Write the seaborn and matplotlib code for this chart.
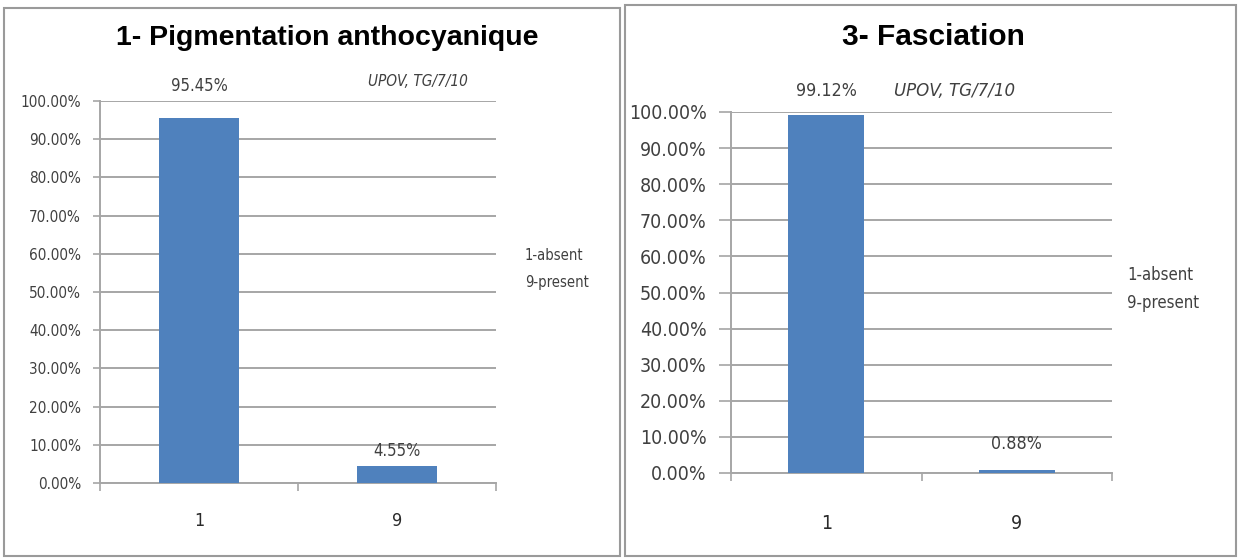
import matplotlib
matplotlib.use("Agg")
import matplotlib.pyplot as plt
import matplotlib.patches as mpatches
from matplotlib.ticker import FuncFormatter, FixedLocator
import seaborn as sns
import pandas as pd

# ---- data ----
categories = ["1", "9"]
pigmentation_values = [95.45, 4.55]
fasciation_values = [99.12, 0.88]
pigmentation_title = "1- Pigmentation anthocyanique"
fasciation_title = "3- Fasciation"
source_note = "UPOV, TG/7/10"
legend_lines = ["1-absent", "9-present"]

sns.set_theme(style="white")
plt.rcParams["font.family"] = ["DejaVu Sans"]

W, H = 1238, 558
fig = plt.figure(figsize=(W / 100, H / 100), dpi=100)
fig.patch.set_facecolor("white")

BAR = "#4F81BD"
GRID = "#a6a6a6"
TXT = "#404040"


def px_axes(x0, x1, y_top, y_bot):
    return fig.add_axes([x0 / W, (H - y_bot) / H, (x1 - x0) / W, (y_bot - y_top) / H])


def frame(x0, y0, x1, y1):
    r = mpatches.Rectangle((x0 / W, (H - y1) / H), (x1 - x0) / W, (y1 - y0) / H,
                           transform=fig.transFigure, fill=False,
                           edgecolor="#9a9a9a", linewidth=1.5)
    fig.add_artist(r)


def draw_panel(ax, values, fs_tick, fs_lab, fs_x, xpad, ytick_len, lab_offsets):
    df = pd.DataFrame({"cat": categories, "val": values})
    sns.barplot(data=df, x="cat", y="val", order=categories, color=BAR,
                saturation=1, width=0.4, ax=ax, zorder=3, linewidth=0)
    ax.set_xlim(-0.5, 1.5)
    ax.set_ylim(0, 100)
    ax.set_yticks(range(0, 101, 10))
    ax.yaxis.set_major_formatter(FuncFormatter(lambda v, p: f"{v:.2f}%"))
    ax.set_xlabel("")
    ax.set_ylabel("")
    ax.grid(axis="y", color=GRID, linewidth=1.4, zorder=0)
    ax.set_axisbelow(True)
    for s in ["top", "right"]:
        ax.spines[s].set_visible(False)
    for s in ["left", "bottom"]:
        ax.spines[s].set_color(GRID)
        ax.spines[s].set_linewidth(1.4)
    ax.tick_params(axis="y", which="major", left=True, length=ytick_len, width=1.2,
                   color=GRID, labelsize=fs_tick, labelcolor=TXT, pad=8.6)
    ax.tick_params(axis="x", which="major", bottom=False, labelsize=fs_x,
                   labelcolor="#2a2a2a", pad=xpad)
    ax.xaxis.set_minor_locator(FixedLocator([-0.5, 0.5, 1.5]))
    ax.tick_params(axis="x", which="minor", bottom=True, length=6, width=1.2,
                   color=GRID)
    for lab in ax.get_yticklabels() + ax.get_xticklabels():
        lab.set_fontstretch("condensed")
    for i, v in enumerate(values):
        ax.annotate(f"{v:.2f}%", (i, v), xytext=(0, lab_offsets[i] * 0.72),
                    textcoords="offset points", ha="center", va="center",
                    fontsize=fs_lab, color=TXT, fontstretch="condensed",
                    annotation_clip=False)


# ---- left panel ----
frame(4, 8, 620, 556)
axL = px_axes(100, 496, 101, 483)
draw_panel(axL, pigmentation_values, 11, 12, 13, 15, 5, [32, 15])
fig.text(327 / W, 1 - 38 / H, pigmentation_title, ha="center", va="center",
         fontsize=20.5, fontweight="bold", family="Liberation Sans", color="black")
fig.text(418 / W, 1 - 82 / H, source_note, ha="center", va="center",
         fontsize=11, style="italic", color=TXT, fontstretch="condensed")
fig.text(525 / W, 1 - 256 / H, legend_lines[0], ha="left", va="center",
         fontsize=10.5, color=TXT, fontstretch="condensed")
fig.text(525 / W, 1 - 283 / H, legend_lines[1], ha="left", va="center",
         fontsize=10.5, color=TXT, fontstretch="condensed")

# ---- right panel ----
frame(625, 5, 1236, 556)
axR = px_axes(731, 1112, 112, 473)
draw_panel(axR, fasciation_values, 14, 12.8, 14, 23.4, 9, [24, 26])
fig.text(933 / W, 1 - 37 / H, fasciation_title, ha="center", va="center",
         fontsize=21.5, fontweight="bold", family="Liberation Sans", color="black")
fig.text(955 / W, 1 - 91 / H, source_note, ha="center", va="center",
         fontsize=13.3, style="italic", color=TXT, fontstretch="condensed")
fig.text(1127 / W, 1 - 275 / H, legend_lines[0], ha="left", va="center",
         fontsize=12, color=TXT, fontstretch="condensed")
fig.text(1127 / W, 1 - 303 / H, legend_lines[1], ha="left", va="center",
         fontsize=12, color=TXT, fontstretch="condensed")

fig.savefig("out.png", dpi=100, facecolor="white")
